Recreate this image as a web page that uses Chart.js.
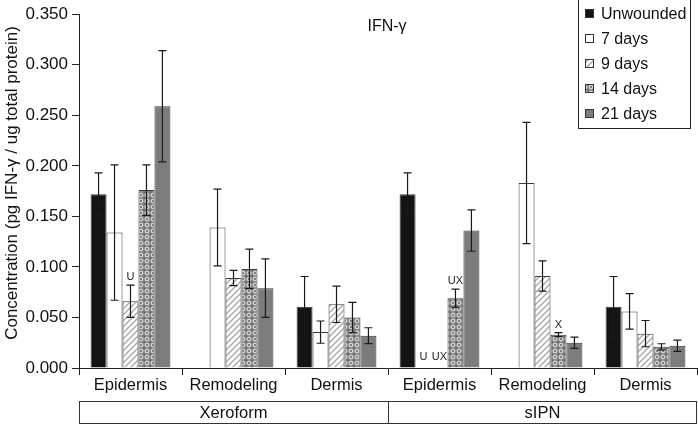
<!DOCTYPE html>
<html>
<head>
<meta charset="utf-8">
<script src="https://cdn.jsdelivr.net/npm/chart.js@4.4.1/dist/chart.umd.min.js"></script>
<style>
  html, body { margin: 0; padding: 0; background: #fff; }
  #wrap { width: 698px; height: 425px; position: relative; }
</style>
</head>
<body>
<div id="wrap"><canvas id="c" width="698" height="425"></canvas></div>
<script>
// ---- Data ----
const categories = ['Epidermis', 'Remodeling', 'Dermis', 'Epidermis', 'Remodeling', 'Dermis'];
const groups = ['Xeroform', 'sIPN'];
const seriesNames = ['Unwounded', '7 days', '9 days', '14 days', '21 days'];

const unwounded = [0.172, 0, 0.0605, 0.172, 0, 0.0605];
const days7     = [0.134, 0.139, 0.0355, 0, 0.183, 0.056];
const days9     = [0.066, 0.089, 0.063, 0, 0.091, 0.034];
const days14    = [0.176, 0.098, 0.050, 0.069, 0.033, 0.021];
const days21    = [0.259, 0.079, 0.032, 0.136, 0.025, 0.022];

const errUnwounded = [0.021, 0, 0.030, 0.021, 0, 0.030];
const err7         = [0.067, 0.038, 0.011, 0, 0.060, 0.0175];
const err9         = [0.016, 0.0075, 0.018, 0, 0.015, 0.013];
const err14        = [0.025, 0.0195, 0.015, 0.009, 0.002, 0.003];
const err21        = [0.055, 0.029, 0.0078, 0.0205, 0.0055, 0.0055];

const mark7  = ['', '', '', 'U', '', ''];
const mark9  = ['U', '', '', 'UX', '', ''];
const mark14 = ['', '', '', 'UX', 'X', ''];

const chartTitle = 'IFN-\u03b3';
const yTitle = 'Concentration (pg IFN-\u03b3 / ug total protein)';

// ---- Patterns ----
const FONT = "'Liberation Sans', Arial, Helvetica, sans-serif";
function hatchPattern() {
  const c = document.createElement('canvas'); c.width = 6; c.height = 6;
  const g = c.getContext('2d');
  g.fillStyle = '#ffffff'; g.fillRect(0, 0, 6, 6);
  g.strokeStyle = '#a8a8a8'; g.lineWidth = 1.4;
  g.beginPath();
  g.moveTo(-1, 7); g.lineTo(7, -1);
  g.moveTo(-4, 4); g.lineTo(4, -4);
  g.moveTo(2, 10); g.lineTo(10, 2);
  g.stroke();
  return g.createPattern(c, 'repeat');
}
function crossPattern() {
  const c = document.createElement('canvas'); c.width = 6; c.height = 6;
  const g = c.getContext('2d');
  g.fillStyle = '#7e7e7e'; g.fillRect(0, 0, 6, 6);
  g.strokeStyle = '#eeeeee'; g.lineWidth = 1;
  g.beginPath();
  g.arc(3, 3, 1.9, 0, Math.PI * 2);
  g.stroke();
  g.fillStyle = '#5e5e5e';
  g.fillRect(0, 0, 1, 1);
  return g.createPattern(c, 'repeat');
}
const fills = ['#141414', '#ffffff', hatchPattern(), crossPattern(), '#7c7c7c'];
const values = [unwounded, days7, days9, days14, days21];
const errs = [errUnwounded, err7, err9, err14, err21];
const marks = [null, mark7, mark9, mark14, null];

const datasets = seriesNames.map((n, i) => ({
  label: n,
  data: values[i],
  backgroundColor: fills[i],
  borderColor: '#3a3a3a',
  borderWidth: 1,
  borderSkipped: 'bottom',
  barPercentage: 1.0,
  categoryPercentage: 0.775,
  errs: errs[i],
  marks: marks[i]
}));

// ---- Plugin: error bars, marks, legend, titles, group box ----
const decor = {
  id: 'decor',
  afterDatasetsDraw(chart) {
    const ctx = chart.ctx;
    const y = chart.scales.y;
    ctx.save();
    chart.data.datasets.forEach((ds, di) => {
      const meta = chart.getDatasetMeta(di);
      meta.data.forEach((bar, i) => {
        const v = ds.data[i], e = ds.errs[i];
        if (e > 0) {
          const yt = y.getPixelForValue(v + e);
          const yb = y.getPixelForValue(Math.max(0, v - e));
          ctx.strokeStyle = '#1a1a1a'; ctx.lineWidth = 1.2;
          ctx.beginPath();
          ctx.moveTo(bar.x, yt); ctx.lineTo(bar.x, yb);
          ctx.moveTo(bar.x - 4, yt); ctx.lineTo(bar.x + 4, yt);
          ctx.moveTo(bar.x - 4, yb); ctx.lineTo(bar.x + 4, yb);
          ctx.stroke();
        }
        if (ds.marks && ds.marks[i]) {
          const top = y.getPixelForValue(v + e);
          ctx.fillStyle = '#222';
          ctx.font = '11px ' + FONT;
          ctx.textAlign = 'center'; ctx.textBaseline = 'alphabetic';
          ctx.fillText(ds.marks[i], bar.x, top - (v + e > 0 ? 5 : 8));
        }
      });
    });
    ctx.restore();
  },
  afterDraw(chart) {
    const ctx = chart.ctx;
    const area = chart.chartArea;
    const x = chart.scales.x;
    ctx.save();
    // chart title
    ctx.fillStyle = '#111';
    ctx.font = '16px ' + FONT;
    ctx.textAlign = 'center'; ctx.textBaseline = 'alphabetic';
    ctx.fillText(chartTitle, 387, 31);
    // y axis title
    ctx.save();
    ctx.translate(12, 183);
    ctx.rotate(-Math.PI / 2);
    ctx.textBaseline = 'middle';
    ctx.font = '17px ' + FONT;
    ctx.fillText(yTitle, 0, 0);
    ctx.restore();
    // legend
    const lx = 578, ly = -1, lw = 112, lh = 129;
    ctx.fillStyle = '#fff';
    ctx.fillRect(lx, ly, lw, lh);
    ctx.strokeStyle = '#222'; ctx.lineWidth = 1;
    ctx.strokeRect(lx + 0.5, ly + 0.5, lw, lh);
    ctx.font = '16px ' + FONT;
    ctx.textAlign = 'left'; ctx.textBaseline = 'middle';
    chart.data.datasets.forEach((ds, i) => {
      const cy = 14 + i * 25;
      ctx.fillStyle = ds.backgroundColor;
      ctx.fillRect(585, cy - 5, 9, 9);
      ctx.strokeStyle = '#333';
      ctx.strokeRect(585.5, cy - 4.5, 8, 8);
      ctx.fillStyle = '#111';
      ctx.fillText(ds.label, 601, cy + 1);
    });
    // group box
    const top = 401, bot = 423;
    const mid = (x.getPixelForValue(2) + x.getPixelForValue(3)) / 2;
    ctx.strokeStyle = '#333'; ctx.lineWidth = 1;
    ctx.strokeRect(Math.round(area.left) + 0.5, top + 0.5, Math.round(area.right - area.left) - 1, bot - top);
    ctx.beginPath();
    ctx.moveTo(Math.round(mid) + 0.5, top); ctx.lineTo(Math.round(mid) + 0.5, bot);
    ctx.stroke();
    ctx.fillStyle = '#111';
    ctx.font = '16.5px ' + FONT;
    ctx.textAlign = 'center'; ctx.textBaseline = 'middle';
    ctx.fillText(groups[0], (area.left + mid) / 2, 413);
    ctx.fillText(groups[1], (mid + area.right) / 2, 413);
    ctx.restore();
  }
};

new Chart(document.getElementById('c'), {
  type: 'bar',
  data: { labels: categories, datasets },
  options: {
    responsive: false,
    animation: false,
    layout: { padding: { top: 13, right: 1, left: 0, bottom: 0 } },
    plugins: { legend: { display: false }, tooltip: { enabled: false } },
    scales: {
      x: {
        offset: true,
        grid: { offset: true, drawOnChartArea: false, drawTicks: true, tickLength: 7, color: '#222' },
        border: { display: true, color: '#222', width: 1 },
        ticks: { color: '#111', font: { size: 16.5, family: FONT }, padding: 1, maxRotation: 0 },
        afterFit: (s) => { s.height = 57; }
      },
      y: {
        min: 0, max: 0.35,
        grid: { drawOnChartArea: false, drawTicks: true, tickLength: 7, color: '#222' },
        border: { display: true, color: '#222', width: 1 },
        ticks: { stepSize: 0.05, color: '#111', font: { size: 17, family: FONT }, padding: 4,
                 callback: (v) => Number(v).toFixed(3) },
        afterFit: (s) => { s.width = 79; }
      }
    }
  },
  plugins: [decor]
});
</script>
</body>
</html>
